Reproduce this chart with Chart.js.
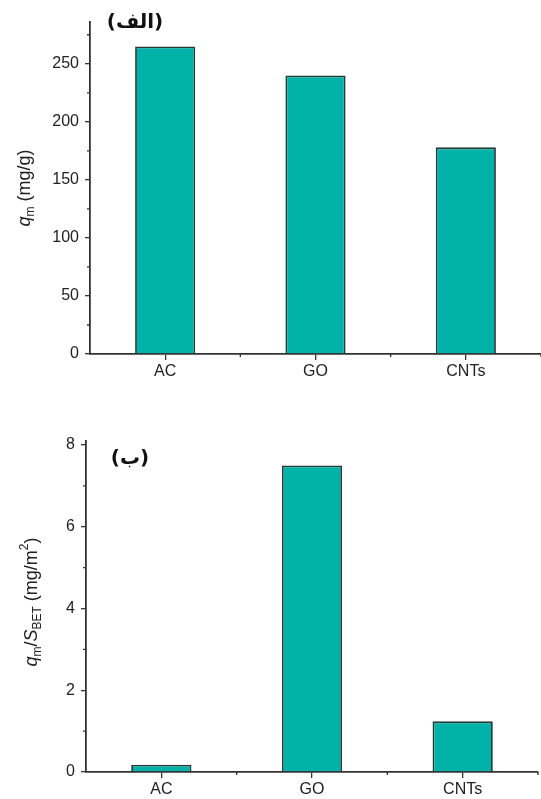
<!DOCTYPE html>
<html>
<head>
<meta charset="utf-8">
<script src="https://cdn.jsdelivr.net/npm/chart.js@4"></script>
<style>
  body { margin: 0; background: #fff; }
  .box { position: absolute; left: 0; width: 541px; }
</style>
</head>
<body>
<div class="box" style="top:0;height:400px"><canvas id="Cnvs1" width="541" height="400"></canvas></div>
<div class="box" style="top:400px;height:399px"><canvas id="Cnvs2" width="541" height="399"></canvas></div>
<script>
// data
var materials = ['AC', 'GO', 'CNTs'];
var qm = [265, 240, 178];              // mg/g
var qmPerArea = [0.18, 7.5, 1.24];     // mg/m2
var qmTicks = [0, 50, 100, 150, 200, 250];
var qmMinor = [25, 75, 125, 175, 225, 275];
var areaTicks = [0, 2, 4, 6, 8];
var areaMinor = [1, 3, 5, 7];

var FONT = '"Liberation Sans", Arial, sans-serif';
var AXIS = '#333333';

// minor ticks, rich y title and the panel letter
var decor = {
  id: 'decor',
  afterDraw: function (chart) {
    var o = chart.options.plugins.decor;
    var ctx = chart.ctx;
    var x = chart.scales.x, y = chart.scales.y;
    ctx.save();
    ctx.strokeStyle = AXIS;
    ctx.lineWidth = 1.3;
    ctx.beginPath();
    o.minor.forEach(function (v) {
      var py = y.getPixelForValue(v);
      ctx.moveTo(x.left, py); ctx.lineTo(x.left - 3, py);
    });
    var n = x.ticks.length;
    var step = x.getPixelForTick(1) - x.getPixelForTick(0);
    for (var i = 0; i < n; i++) {
      var px = x.getPixelForTick(i) + step / 2;
      ctx.moveTo(px, y.bottom); ctx.lineTo(px, y.bottom + 3);
    }
    ctx.stroke();

    // y title
    ctx.translate(o.titleX, o.titleY);
    ctx.rotate(-Math.PI / 2);
    ctx.fillStyle = '#222';
    ctx.textBaseline = 'middle';
    var total = 0;
    o.title.forEach(function (s) {
      ctx.font = (s.it ? 'italic ' : '') + (s.sub || s.sup ? '12px ' : '18px ') + FONT;
      s.w = ctx.measureText(s.t).width;
      total += s.w;
    });
    var cx = -total / 2;
    o.title.forEach(function (s) {
      ctx.font = (s.it ? 'italic ' : '') + (s.sub || s.sup ? '12px ' : '18px ') + FONT;
      var dy = s.sub ? 6 : (s.sup ? -7 : 0);
      ctx.fillText(s.t, cx, dy);
      cx += s.w;
    });
    ctx.restore();

    ctx.save();
    ctx.font = 'bold 20px "DejaVu Sans", sans-serif';
    ctx.fillStyle = '#111';
    ctx.textAlign = 'center';
    ctx.textBaseline = 'middle';
    ctx.fillText(o.label, o.labelX, o.labelY);
    ctx.restore();
  }
};

function makeChart(id, values, yMax, yTicks, minor, padTop, xHeight, yWidth, rightPad, deco) {
  var Cnvs = document.getElementById(id).getContext('2d');
  return new Chart(Cnvs, {
    type: 'bar',
    data: {
      labels: materials,
      datasets: [{
        data: values,
        backgroundColor: '#00B2A7',
        borderColor: '#263a37',
        borderWidth: 1.8,
        borderSkipped: 'bottom',
        categoryPercentage: 1,
        barPercentage: 0.4
      }]
    },
    options: {
      responsive: false,
      animation: false,
      layout: { padding: { top: padTop, right: rightPad, left: 0, bottom: 0 } },
      plugins: { legend: { display: false }, tooltip: { enabled: false }, decor: deco },
      scales: {
        x: {
          afterFit: function (s) { s.height = xHeight; },
          grid: { offset: false, drawOnChartArea: false, tickLength: 6, color: AXIS, lineWidth: 1.3 },
          border: { color: AXIS, width: 1.8 },
          ticks: { color: '#222', font: { family: FONT, size: 16 }, padding: 2 }
        },
        y: {
          min: 0, max: yMax,
          afterFit: function (s) { s.width = yWidth; },
          afterBuildTicks: function (s) { s.ticks = yTicks.map(function (v) { return { value: v }; }); },
          grid: { drawOnChartArea: false, tickLength: 5, color: AXIS, lineWidth: 1.3 },
          border: { color: AXIS, width: 1.8 },
          ticks: { color: '#222', font: { family: FONT, size: 16 }, padding: 6 }
        }
      }
    },
    plugins: [decor]
  });
}

var chart1 = makeChart('Cnvs1', qm, 286, qmTicks, qmMinor, 22, 46, 90, 0, {
  minor: qmMinor,
  title: [{ t: 'q', it: true }, { t: 'm', sub: true }, { t: ' (mg/g)' }],
  titleX: 25, titleY: 188,
  label: '(الف)', labelX: 135, labelY: 23
});

var chart2 = makeChart('Cnvs2', qmPerArea, 8.1, areaTicks, areaMinor, 41, 27, 86, 3, {
  minor: areaMinor,
  title: [{ t: 'q', it: true }, { t: 'm', sub: true }, { t: '/' }, { t: 'S', it: true },
          { t: 'BET', sub: true }, { t: ' (mg/m' }, { t: '2', sup: true }, { t: ')' }],
  titleX: 32, titleY: 202,
  label: '(ب)', labelX: 130, labelY: 59
});
</script>
</body>
</html>
